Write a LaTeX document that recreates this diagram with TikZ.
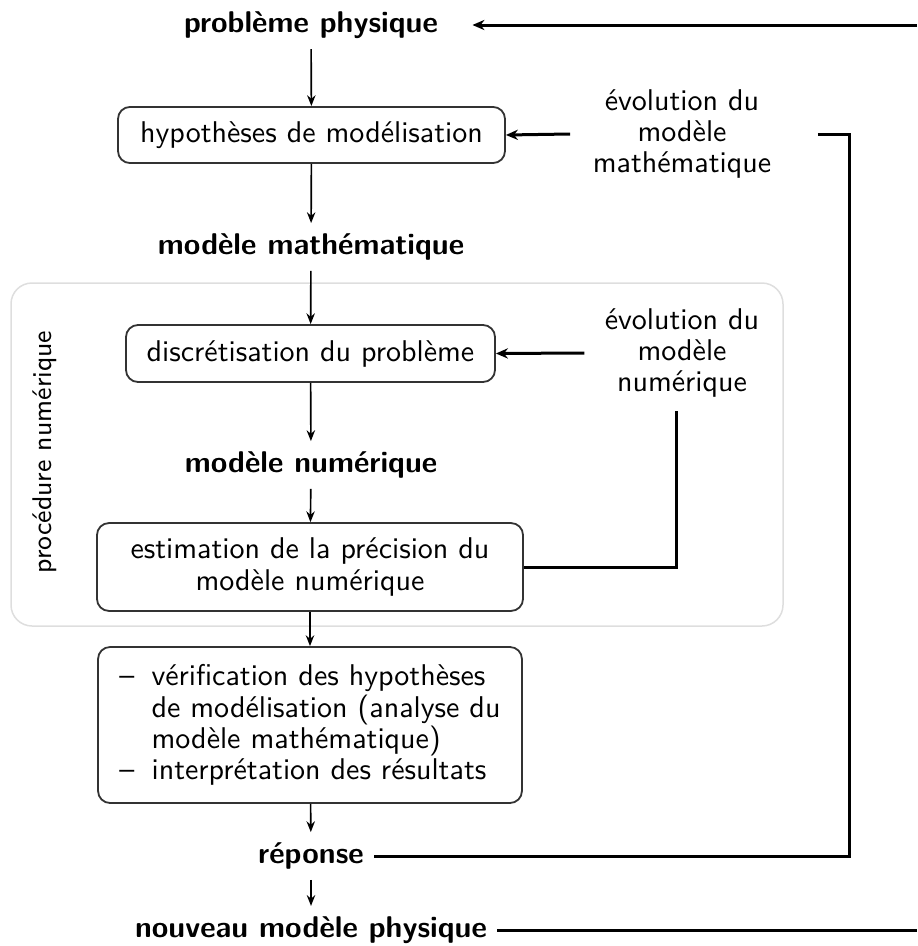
\documentclass[tikz,border=0pt]{standalone}
\usepackage{fontspec}
\usetikzlibrary{arrows.meta}
\newcommand\itemdash{\makebox[10.7pt][l]{–}}
\newcommand\itemgap{\hspace*{10.7pt}}
\begin{document}
\begin{tikzpicture}[
  x=0.33333pt, y=-0.33333pt,
  every node/.style={font=\sffamily\fontsize{10}{10.4}\selectfont, text=black},
  boldlabel/.style={font=\sffamily\bfseries\fontsize{10}{10.4}\selectfont},
  boxnode/.style={draw=black!80, line width=0.6pt, rounded corners=4pt, inner sep=0pt, align=center},
  evol/.style={align=center},
  flowarrow/.style={-{Stealth[length=3.6pt,width=2.8pt]}, line width=0.55pt},
  feedback/.style={line width=1pt},
  feedarrow/.style={feedback, -{Stealth[length=4pt,width=3.4pt]}},
  procbox/.style={draw=black!13, line width=0.5pt, rounded corners=7pt}
]
\useasboundingbox (0,0) rectangle (917,946);

% procedure numerique frame
\draw[procbox] (11,283) rectangle (783,626);
\node[rotate=90, font=\sffamily\fontsize{9}{10}\selectfont] (PN) at (45,452) {procédure numérique};

% main column
\node[boldlabel] (P1) at (311,25) {problème physique};
\node[boxnode, minimum width=129pt, minimum height=18.7pt] (B1) at (311.5,135) {hypothèses de modélisation};
\node[boldlabel] (M) at (311,247) {modèle mathématique};
\node[boxnode, minimum width=123pt, minimum height=19pt] (B2) at (310.5,353.5) {discrétisation du problème};
\node[boldlabel] (N) at (311,465) {modèle numérique};
\node[boxnode, minimum width=142pt, minimum height=29.3pt] (B3) at (310,567) {estimation de la précision du\\modèle numérique};
\node[boxnode, minimum width=141.3pt, minimum height=52pt, align=left] (B4) at (310,725)
  {\itemdash vérification des hypothèses\\
   \itemgap de modélisation (analyse du\\
   \itemgap modèle mathématique)\\
   \itemdash interprétation des résultats};
\node[boldlabel] (R) at (311,856) {réponse};
\node[boldlabel] (NP) at (311,930) {nouveau modèle physique};

% evolution labels
\node[evol] (E1) at (682,134) {évolution du\\modèle\\mathématique};
\node[evol] (E2) at (682,353) {évolution du\\modèle\\numérique};

% flow arrows
\draw[flowarrow] (P1) -- (B1);
\draw[flowarrow] (B1) -- (M);
\draw[flowarrow] (M) -- (B2);
\draw[flowarrow] (B2) -- (N);
\draw[flowarrow] (N) -- (B3);
\draw[flowarrow] (B3) -- (B4);
\draw[flowarrow] (B4) -- (R);
\draw[flowarrow] (R) -- (NP);

% feedback connectors
\coordinate (PE) at (917,25);
\draw[feedarrow, shorten >=8pt] (PE) -- (P1.east);
\draw[feedarrow] ([xshift=-4pt]E1.west) -- (B1.east);
\coordinate (K1) at (849,134);
\draw[feedback] ([xshift=12pt]E1.east) -- (K1) |- (R.east);
\draw[feedarrow] ([xshift=-3.3pt]E2.west) -- (B2.east);
\draw[feedback] ([xshift=-1.67pt,yshift=-1pt]E2.south) |- (B3.east);
\coordinate (NE) at (917,930);
\draw[feedback] (NP.east) -- (NE);
\end{tikzpicture}
\end{document}
